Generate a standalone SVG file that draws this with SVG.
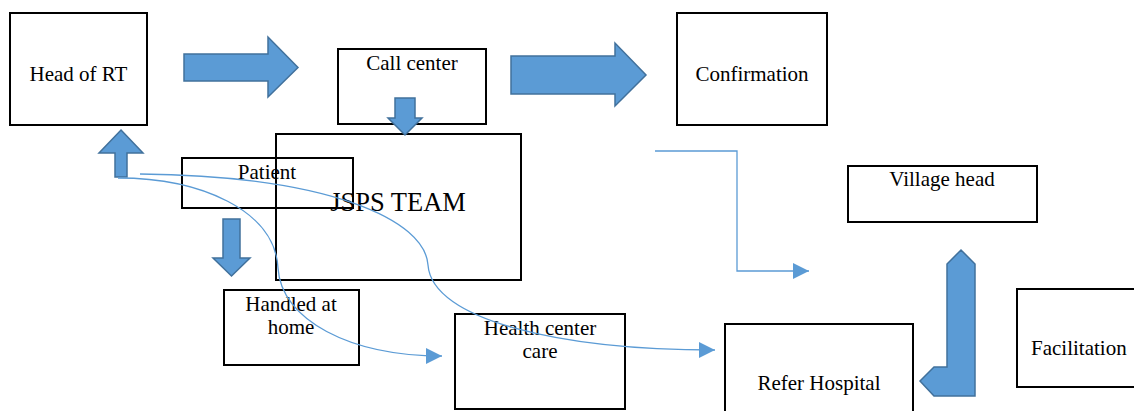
<svg xmlns="http://www.w3.org/2000/svg" width="1134" height="411" viewBox="0 0 1134 411">
<style>
.box{fill:none;stroke:#000;stroke-width:2}
.lbl{font-size:21px;fill:#000;text-anchor:middle}
.big{font-size:26.5px}
.blk{fill:#5B9BD5;stroke:#41719C;stroke-width:1.5;stroke-linejoin:miter}
.con{fill:none;stroke:#5B9BD5;stroke-width:1.3}
</style>
<defs>
<marker id="ah" markerUnits="userSpaceOnUse" markerWidth="16" markerHeight="16" viewBox="0 0 15 15" refX="15" refY="7.5" orient="auto">
<path d="M0,0 L15,7.5 L0,15 Z" fill="#5B9BD5"/>
</marker>
</defs>
<rect width="1134" height="411" fill="#fff"/>
<g font-family="Liberation Serif, Times New Roman, DejaVu Serif, serif">
<g id="head-of-rt"><rect class="box" x="10" y="13" width="137" height="112"/><text class="lbl" x="78.5" y="81">Head of RT</text></g>
<g id="call-center"><rect class="box" x="338" y="49" width="148" height="75"/><text class="lbl" x="412" y="70">Call center</text></g>
<g id="confirmation"><rect class="box" x="677" y="13" width="150" height="112"/><text class="lbl" x="752" y="81">Confirmation</text></g>
<g id="jsps-team"><rect class="box" x="276" y="134" width="245" height="146"/><text class="lbl big" x="398" y="211">JSPS TEAM</text></g>
<g id="patient"><rect class="box" x="182" y="158" width="171" height="50"/><text class="lbl" x="267" y="179">Patient</text></g>
<g id="handled-at-home"><rect class="box" x="224" y="290" width="135" height="75"/><text class="lbl" x="291" y="311">Handled at</text><text class="lbl" x="291" y="334">home</text></g>
<g id="health-center-care"><rect class="box" x="455" y="314" width="170" height="95"/><text class="lbl" x="540" y="335">Health center</text><text class="lbl" x="540" y="358">care</text></g>
<g id="refer-hospital"><rect class="box" x="725" y="324" width="188" height="100"/><text class="lbl" x="819" y="390">Refer Hospital</text></g>
<g id="village-head"><rect class="box" x="848" y="166" width="189" height="56"/><text class="lbl" x="942" y="186">Village head</text></g>
<g id="facilitation"><rect class="box" x="1017" y="289" width="130" height="98"/><text class="lbl" x="1031" y="355" style="text-anchor:start">Facilitation</text></g>
</g>
<g id="connectors">
<polygon class="blk" points="184,54 268,54 268,37 298,67.5 268,97 268,81 184,81"/>
<polygon class="blk" points="511,56 615,56 615,43 646,75 615,106 615,94 511,94"/>
<polygon class="blk" points="395,98 415,98 415,118 422,118 405,135 388,118 395,118"/>
<polygon class="blk" points="121,130 143,153 127,153 127,177 115,177 115,153 99,153"/>
<polygon class="blk" points="223,219 240,219 240,258 250,258 231.5,276 213,258 223,258"/>
<polygon class="blk" points="961,250 975,264 975,396 934,396 920,381 934,367 947,367 947,264"/>
<path class="con" d="M655,151 H737 V271 H809" marker-end="url(#ah)"/>
<path class="con" d="M118,178 C200,178 275,210 278,268 C281,320 350,356 442,356" marker-end="url(#ah)"/>
<path class="con" d="M140,174 C330,176 425,220 428,265 C432,320 560,350 715,350" marker-end="url(#ah)"/>
</g>
</svg>
